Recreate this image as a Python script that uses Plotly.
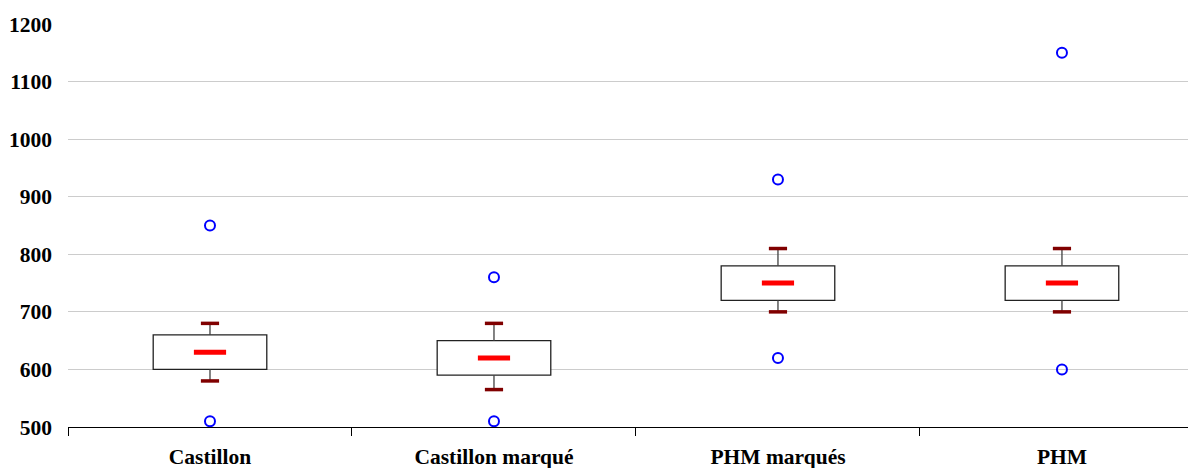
import plotly.graph_objects as go

# données
categories = ["Castillon", "Castillon marqué", "PHM marqués", "PHM"]
q1 = [600, 590, 720, 720]
mediane = [630, 620, 750, 750]
q3 = [660, 650, 780, 780]
moustache_bas = [580, 565, 700, 700]
moustache_haut = [680, 680, 810, 810]
extreme_haut = [850, 760, 930, 1150]
extreme_bas = [510, 510, 620, 600]

fig = go.Figure()

# moustaches (traits fins)
wx, wy = [], []
for c, lo, a, b, hi in zip(categories, moustache_bas, q1, q3, moustache_haut):
    wx += [c, c, None, c, c, None]
    wy += [lo, a, None, b, hi, None]
fig.add_trace(go.Scatter(x=wx, y=wy, mode="lines",
                         line=dict(color="#404040", width=1.3),
                         hoverinfo="skip", showlegend=False))

# boîtes
fig.add_trace(go.Bar(
    x=categories,
    y=[b - a for a, b in zip(q1, q3)],
    base=q1,
    width=0.4,
    marker=dict(color="white", line=dict(color="#222222", width=1.3)),
    showlegend=False, hoverinfo="skip",
))

# extrémités des moustaches
fig.add_trace(go.Scatter(
    x=categories + categories, y=moustache_bas + moustache_haut, mode="markers",
    marker=dict(symbol="line-ew", size=13, line=dict(color="#800000", width=3.5)),
    showlegend=False, hoverinfo="skip",
))

# médianes
fig.add_trace(go.Scatter(
    x=categories, y=mediane, mode="markers",
    marker=dict(symbol="line-ew", size=23, line=dict(color="#ff0000", width=5)),
    showlegend=False,
))

# valeurs extrêmes
fig.add_trace(go.Scatter(
    x=categories + categories, y=extreme_haut + extreme_bas, mode="markers",
    marker=dict(symbol="circle-open", size=10, color="#0000ff",
                line=dict(color="#0000ff", width=2)),
    showlegend=False,
))

police = dict(family="Liberation Serif, Times New Roman, serif", size=21.5, color="black")

# la page ajoute une marge de 8 px autour de la figure
fig.update_layout(
    width=1188, height=460,
    margin=dict(l=60, r=0, t=16, b=41),
    plot_bgcolor="white", paper_bgcolor="white",
    font=police,
    barmode="overlay",
    xaxis=dict(
        type="category", range=[-0.5, 3.472], automargin=False,
        showline=True, linecolor="black", linewidth=1,
        ticks="outside", tickson="boundaries", ticklen=8, tickcolor="black",
        ticklabelstandoff=10,
        tickfont=dict(family=police["family"], size=21.5, color="black", weight="bold"),
        showgrid=False, zeroline=False,
    ),
    yaxis=dict(
        range=[500, 1200], dtick=100, automargin=False,
        showgrid=True, gridcolor="#cccccc", gridwidth=1,
        showline=False, zeroline=False, ticks="",
        ticklabelstandoff=15,
        tickfont=dict(family=police["family"], size=21.5, color="black", weight="bold"),
    ),
)

fig.write_html("out.html")
